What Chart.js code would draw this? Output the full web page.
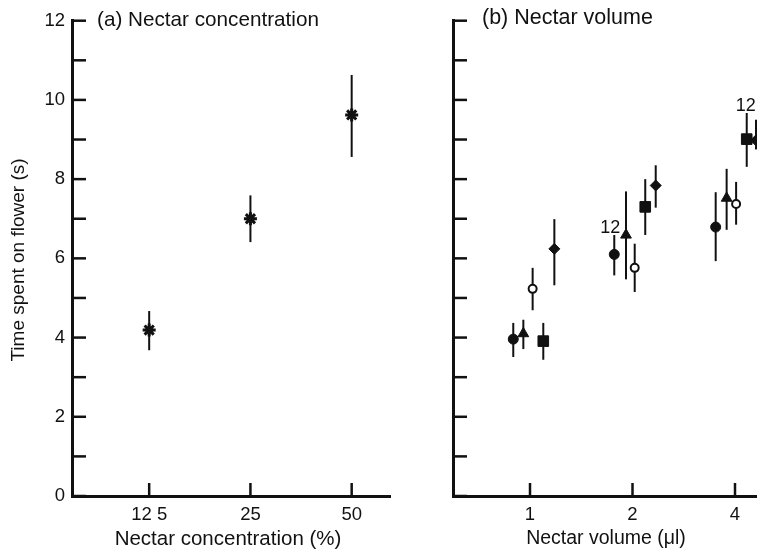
<!DOCTYPE html>
<html>
<head>
<meta charset="utf-8">
<script src="https://cdn.jsdelivr.net/npm/chart.js@4.4.1/dist/chart.umd.min.js"></script>
<style>
html, body { margin: 0; padding: 0; background: #fff; overflow: hidden; }
#wrap { position: relative; width: 757px; height: 549px; overflow: hidden; }
#leftBox { position: absolute; left: 0; top: 0; width: 400px; height: 549px; }
#rightBox { position: absolute; left: 400px; top: 0; width: 400px; height: 549px; }
</style>
</head>
<body>
<div id="wrap">
  <div id="leftBox"><canvas id="concChart" width="400" height="549"></canvas></div>
  <div id="rightBox"><canvas id="volChart" width="400" height="549"></canvas></div>
</div>
<script>
// DATA
// ====
// y axis (time spent on flower, s)
const timeTicks = [0, 1, 2, 3, 4, 5, 6, 7, 8, 9, 10, 11, 12];
const timeLabelled = [0, 2, 4, 6, 8, 10, 12];

// (a) nectar concentration
const concTicks = [12.5, 25, 50];
const concTickLabels = ['12 5', '25', '50'];
const concTime = [4.19, 7.0, 9.62];
const concLow = [3.68, 6.41, 8.56];
const concHigh = [4.67, 7.59, 10.63];

// (b) nectar volume, one set of arrays per marker
const volTicks = [1, 2, 4];
const volTickLabels = ['1', '2', '4'];

const circleVol = [0.893, 1.768, 3.51];
const circleTime = [3.96, 6.10, 6.79];
const circleLow = [3.51, 5.57, 5.93];
const circleHigh = [4.37, 6.59, 7.67];

const triangleVol = [0.956, 1.914, 3.78];
const triangleTime = [4.10, 6.59, 7.52];
const triangleLow = [3.71, 5.47, 6.72];
const triangleHigh = [4.45, 7.69, 8.26];

const openVol = [1.018, 2.03, 4.03];
const openTime = [5.23, 5.76, 7.37];
const openLow = [4.69, 5.15, 6.85];
const openHigh = [5.76, 6.37, 7.93];

const squareVol = [1.094, 2.18, 4.33];
const squareTime = [3.91, 7.30, 9.01];
const squareLow = [3.44, 6.59, 8.31];
const squareHigh = [4.37, 8.0, 9.67];

const diamondVol = [1.179, 2.34, 4.61];
const diamondTime = [6.24, 7.84, 8.98];
const diamondLow = [5.32, 7.28, 8.75];
const diamondHigh = [6.99, 8.35, 9.5];

// small "12" notes beside two of the points
const noteText = ['12', '12'];
const noteVol = [1.72, 4.30];
const noteTime = [6.77, 9.84];

const ink = '#111';
Chart.defaults.font.family = "'Liberation Sans', Arial, Helvetica, sans-serif";
Chart.defaults.color = ink;

// turn parallel arrays into {x, y, lo, hi} points
function makePoints(xs, ys, lo, hi) {
    return xs.map((x, i) => ({ x: x, y: ys[i], lo: lo[i], hi: hi[i] }));
}

// PLUGINS
// =======
// vertical error bars, drawn under the markers
const errorBars = {
    id: 'errorBars',
    beforeDatasetsDraw(chart) {
        const { ctx, scales: { x, y } } = chart;
        ctx.save();
        ctx.strokeStyle = ink;
        ctx.lineWidth = 2;
        chart.data.datasets.forEach(ds => {
            ds.data.forEach(p => {
                const px = x.getPixelForValue(p.x);
                ctx.beginPath();
                ctx.moveTo(px, y.getPixelForValue(p.lo));
                ctx.lineTo(px, y.getPixelForValue(p.hi));
                ctx.stroke();
            });
        });
        ctx.restore();
    }
};

// tick marks pointing into the plot
const inwardTicks = {
    id: 'inwardTicks',
    afterDatasetsDraw(chart) {
        const { ctx, chartArea, scales: { x, y } } = chart;
        ctx.save();
        ctx.strokeStyle = ink;
        ctx.lineWidth = 2.5;
        y.ticks.forEach(t => {
            const py = y.getPixelForValue(t.value);
            ctx.beginPath();
            ctx.moveTo(chartArea.left, py);
            ctx.lineTo(chartArea.left + 14, py);
            ctx.stroke();
        });
        x.ticks.forEach(t => {
            const px = x.getPixelForValue(t.value);
            ctx.beginPath();
            ctx.moveTo(px, chartArea.bottom);
            ctx.lineTo(px, chartArea.bottom - 13);
            ctx.stroke();
        });
        ctx.restore();
    }
};

// free text: panel titles, axis titles, notes
function textPlugin(items, notes) {
    return {
        id: 'panelText',
        afterDraw(chart) {
            const ctx = chart.ctx;
            ctx.save();
            ctx.fillStyle = ink;
            ctx.textBaseline = 'middle';
            items.forEach(it => {
                ctx.font = it.size + "px 'Liberation Sans', Arial, sans-serif";
                ctx.textAlign = it.align;
                if (it.rotate) {
                    ctx.save();
                    ctx.translate(it.x, it.y);
                    ctx.rotate(-Math.PI / 2);
                    ctx.fillText(it.text, 0, 0);
                    ctx.restore();
                } else {
                    ctx.fillText(it.text, it.x, it.y);
                }
            });
            if (notes) {
                const { x, y } = chart.scales;
                ctx.font = "18px 'Liberation Sans', Arial, sans-serif";
                ctx.textAlign = 'center';
                noteText.forEach((t, i) => {
                    ctx.fillText(t, x.getPixelForValue(noteVol[i]), y.getPixelForValue(noteTime[i]));
                });
            }
            ctx.restore();
        }
    };
}

// SCALES
// ======
function timeAxis(showLabels, width) {
    return {
        type: 'linear',
        min: 0,
        max: 12,
        afterBuildTicks: s => { s.ticks = timeTicks.map(v => ({ value: v })); },
        afterFit: s => { s.width = width; },
        grid: { drawOnChartArea: false, drawTicks: false },
        border: { color: ink, width: 3 },
        ticks: {
            autoSkip: false,
            padding: 7,
            font: { size: 18.5 },
            callback: v => (showLabels && timeLabelled.includes(v)) ? String(v) : ''
        }
    };
}

function logAxis(min, max, tickVals, tickLabels) {
    return {
        type: 'logarithmic',
        min: min,
        max: max,
        bounds: 'data',
        afterBuildTicks: s => { s.ticks = tickVals.map(v => ({ value: v })); },
        afterFit: s => { s.height = 53; },
        grid: { drawOnChartArea: false, drawTicks: false },
        border: { color: ink, width: 3 },
        ticks: {
            autoSkip: false,
            maxRotation: 0,
            padding: 8,
            font: { size: 18.5 },
            callback: (v, i) => tickLabels[i]
        }
    };
}

function baseOptions(xAxis, yAxis) {
    return {
        responsive: false,
        animation: false,
        layout: { padding: { top: 20.7, right: 10, left: 0, bottom: 0 } },
        plugins: { legend: { display: false }, tooltip: { enabled: false } },
        scales: { x: xAxis, y: yAxis }
    };
}

// (a) CHART
// =========
new Chart(document.getElementById('concChart').getContext('2d'), {
    type: 'scatter',
    data: {
        datasets: [{
            data: makePoints(concTicks, concTime, concLow, concHigh),
            pointStyle: 'star',
            radius: 6.5,
            borderWidth: 3,
            borderColor: ink,
            backgroundColor: ink
        }]
    },
    options: baseOptions(logAxis(7.37, 65.0, concTicks, concTickLabels), timeAxis(true, 72)),
    plugins: [errorBars, inwardTicks, textPlugin([
        { text: '(a) Nectar concentration', x: 97, y: 20, align: 'left', size: 20.7 },
        { text: 'Nectar concentration (%)', x: 228, y: 539, align: 'center', size: 20.5 },
        { text: 'Time spent on flower (s)', x: 18.5, y: 260, align: 'center', size: 19 , rotate: true }
    ], false)]
});

// (b) CHART
// =========
function markerSet(points, style, radius, fill, width) {
    return {
        data: points,
        pointStyle: style,
        radius: radius,
        borderWidth: width,
        borderColor: ink,
        backgroundColor: fill
    };
}

new Chart(document.getElementById('volChart').getContext('2d'), {
    type: 'scatter',
    data: {
        datasets: [
            markerSet(makePoints(circleVol, circleTime, circleLow, circleHigh), 'circle', 5, ink, 1),
            markerSet(makePoints(triangleVol, triangleTime, triangleLow, triangleHigh), 'triangle', 6.2, ink, 1),
            markerSet(makePoints(openVol, openTime, openLow, openHigh), 'circle', 4, '#fff', 2),
            markerSet(makePoints(squareVol, squareTime, squareLow, squareHigh), 'rect', 7.5, ink, 1),
            markerSet(makePoints(diamondVol, diamondTime, diamondLow, diamondHigh), 'rectRot', 5.5, ink, 1)
        ]
    },
    options: baseOptions(logAxis(0.5941, 5.802, volTicks, volTickLabels), timeAxis(false, 53)),
    plugins: [errorBars, inwardTicks, textPlugin([
        { text: '(b) Nectar volume', x: 82, y: 18, align: 'left', size: 21.5 },
        { text: 'Nectar volume (\u03bcl)', x: 206, y: 539, align: 'center', size: 19.5 }
    ], true)]
});
</script>
</body>
</html>
